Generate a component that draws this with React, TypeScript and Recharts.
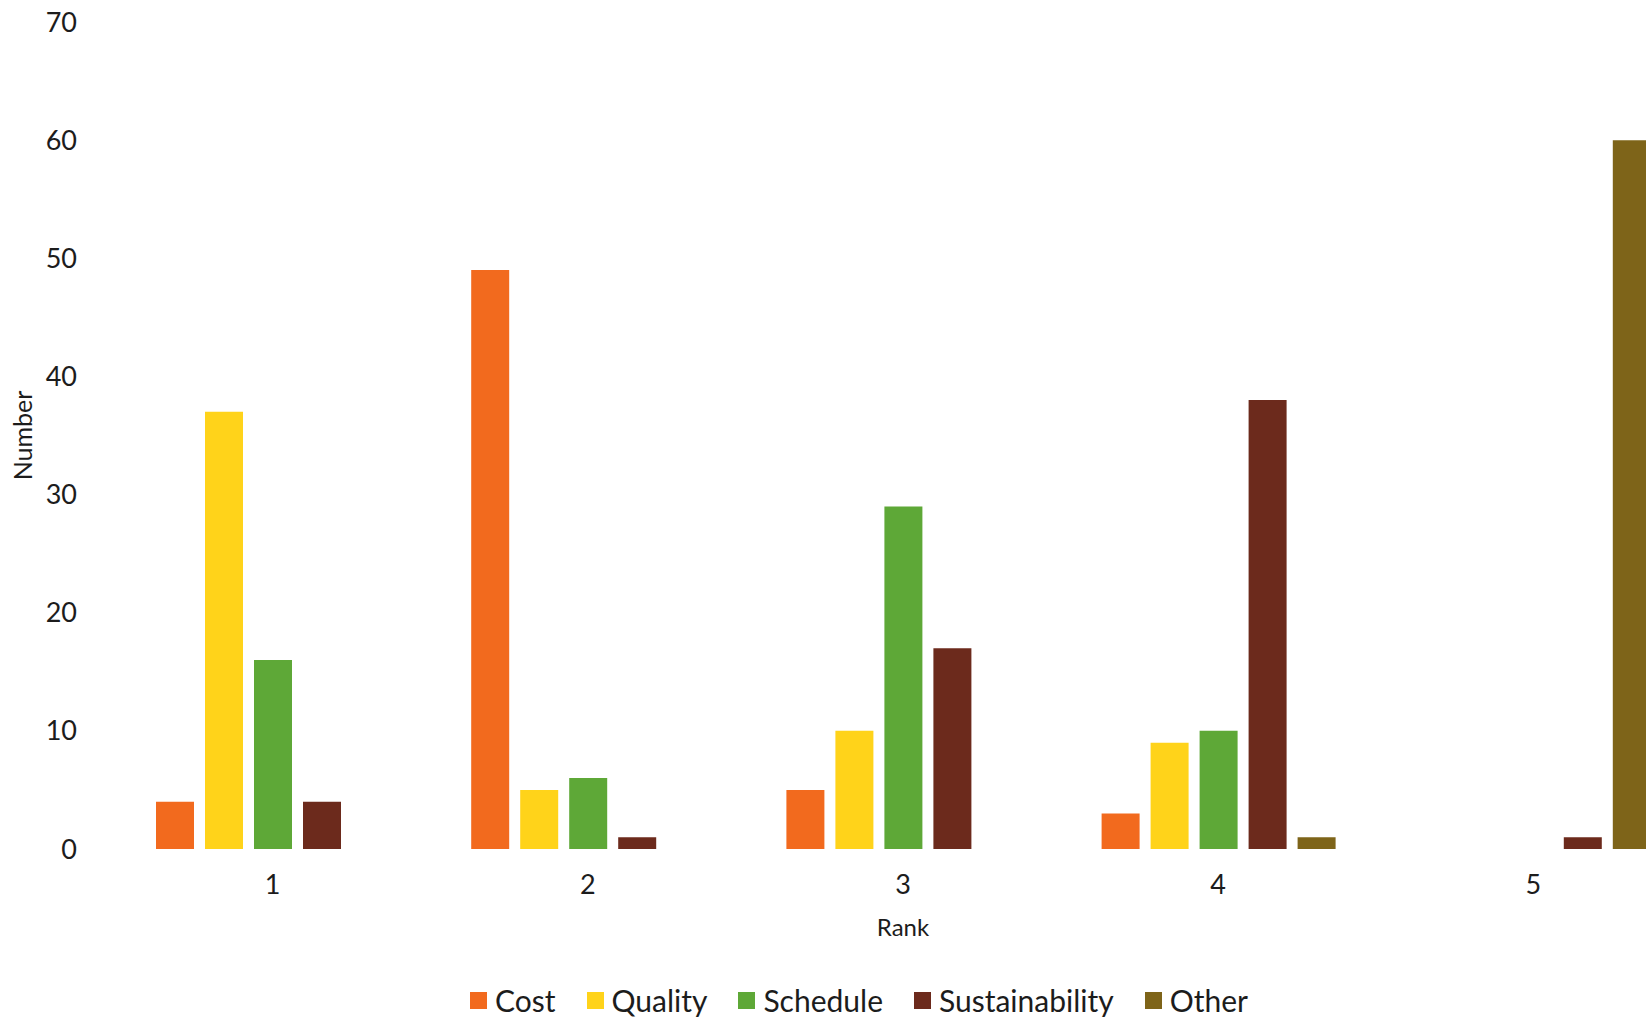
import React from 'react';
import { BarChart, Bar, XAxis, YAxis, Legend } from 'recharts';

const ranks = ['1', '2', '3', '4', '5'];
const cost = [4, 49, 5, 3, 0];
const quality = [37, 5, 10, 9, 0];
const schedule = [16, 6, 29, 10, 0];
const sustainability = [4, 1, 17, 38, 1];
const other = [0, 0, 0, 1, 60];
const yTicks = [0, 10, 20, 30, 40, 50, 60, 70];

const seriesNames = ['Cost', 'Quality', 'Schedule', 'Sustainability', 'Other'];
const seriesColors = ['#F26A1E', '#FFD31A', '#5EA837', '#6C2A1C', '#7E6419'];
const seriesValues = [cost, quality, schedule, sustainability, other];

const data = ranks.map((rank, i) => {
  const row: Record<string, string | number> = { rank };
  seriesNames.forEach((name, s) => {
    row[name] = seriesValues[s][i];
  });
  return row;
});

const FONT = 'Lato, "Open Sans", sans-serif';
const TEXT = '#1c1c1c';

const LegendContent = () => (
  <div style={{ display: 'flex', alignItems: 'center', height: 34, fontFamily: FONT, fontSize: 30, color: TEXT }}>
    {seriesNames.map((name, i) => (
      <div key={name} style={{ display: 'flex', alignItems: 'center', marginRight: 31 }}>
        <span style={{ display: 'inline-block', width: 17, height: 17, background: seriesColors[i], marginRight: 8 }} />
        <span>{name}</span>
      </div>
    ))}
  </div>
);

export default function App() {
  return (
    <div style={{ position: 'absolute', left: 0, top: 0, width: 1646, height: 1017, overflow: 'hidden', background: '#fff' }}>
      <BarChart
        width={1705}
        height={1017}
        data={data}
        margin={{ top: 22, right: 14, bottom: 44, left: 0 }}
        barSize={38}
        barGap={11}
      >
        <XAxis
          dataKey="rank"
          axisLine={false}
          tickLine={false}
          tickSize={0}
          tickMargin={26}
          height={90}
          tick={{ fontSize: 27, fill: TEXT, fontFamily: FONT }}
          label={{ value: 'Rank', position: 'insideBottom', offset: 3, fontSize: 24, fill: TEXT, fontFamily: FONT }}
        />
        <YAxis
          domain={[0, 70]}
          ticks={yTicks}
          interval={0}
          width={115}
          axisLine={false}
          tickLine={false}
          tickSize={0}
          tickMargin={38}
          tick={{ fontSize: 27, fill: TEXT, fontFamily: FONT }}
          label={{
            value: 'Number',
            angle: -90,
            position: 'insideLeft',
            offset: 23,
            fontSize: 25,
            fill: TEXT,
            fontFamily: FONT,
            style: { textAnchor: 'middle' },
          }}
        />
        <Legend
          verticalAlign="bottom"
          content={<LegendContent />}
          wrapperStyle={{ top: 983, left: 470, bottom: 'auto', width: 'auto', height: 34 }}
        />
        {seriesNames.map((name, i) => (
          <Bar key={name} dataKey={name} fill={seriesColors[i]} isAnimationActive={false} />
        ))}
      </BarChart>
    </div>
  );
}
